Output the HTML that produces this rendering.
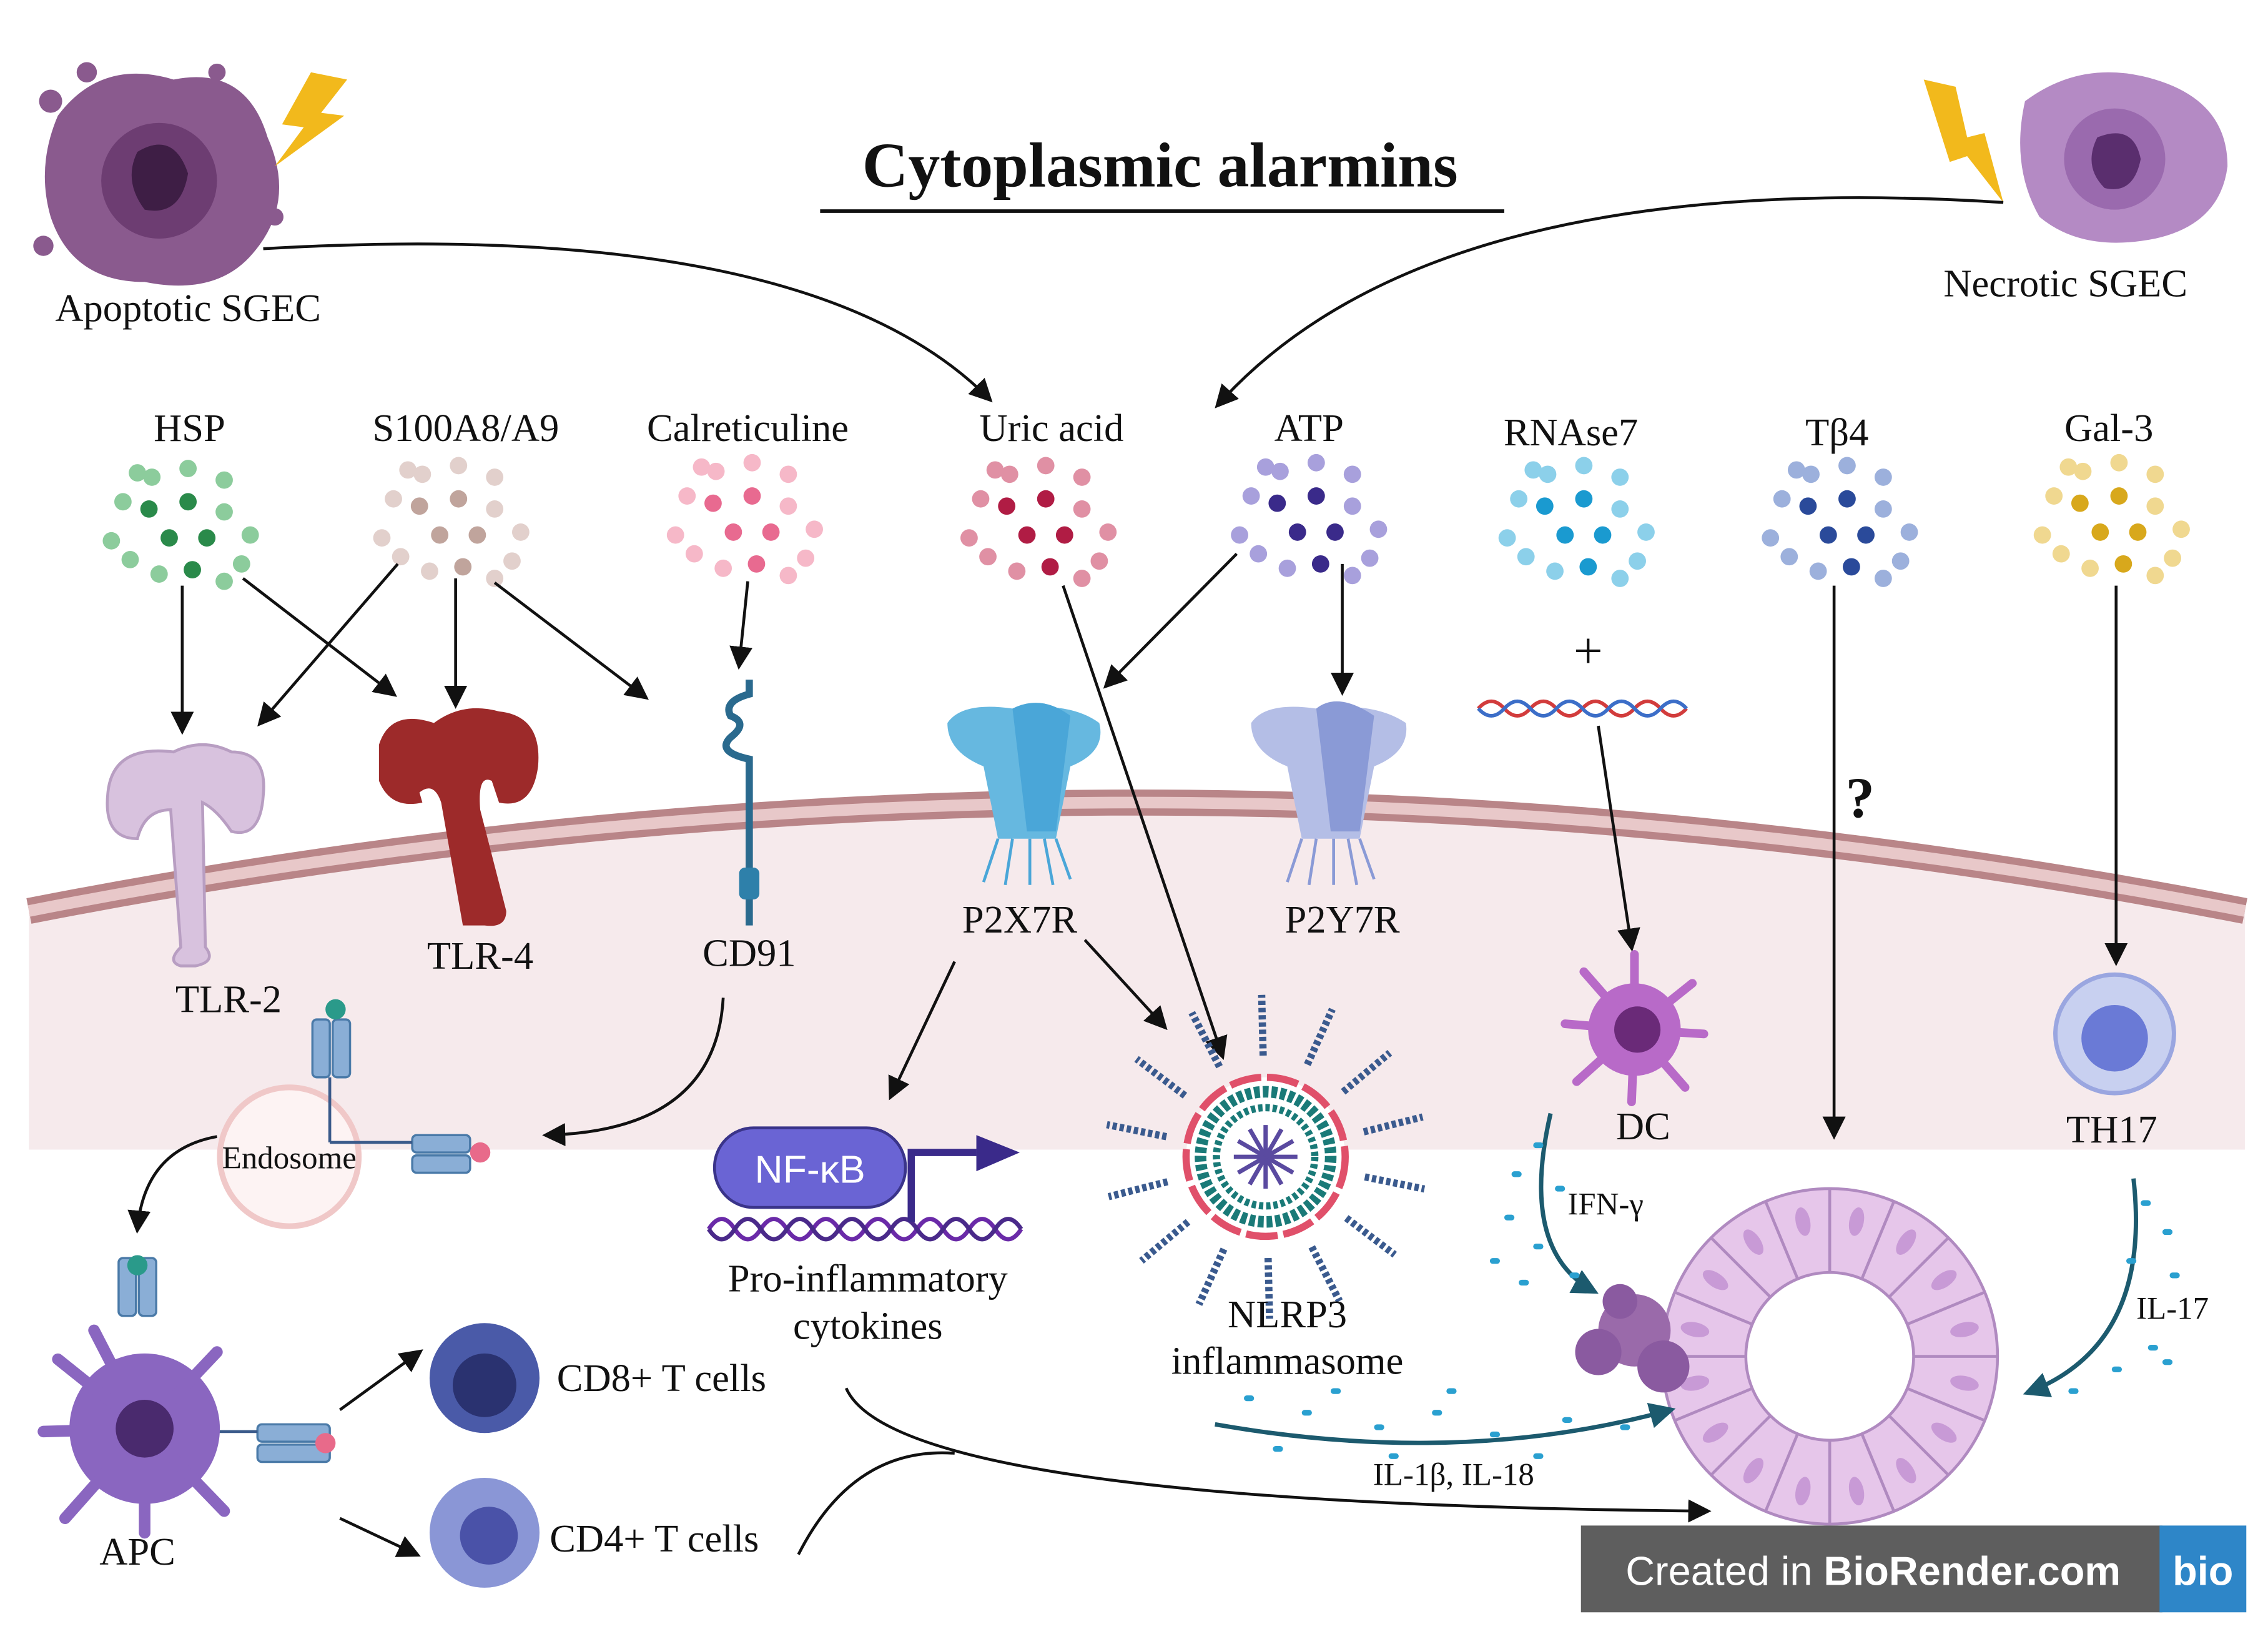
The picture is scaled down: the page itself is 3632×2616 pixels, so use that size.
<!DOCTYPE html>
<html><head><meta charset="utf-8">
<style>
html,body{margin:0;padding:0;background:#fff;width:3632px;height:2616px;overflow:hidden}
svg{display:block}
text{font-family:"Liberation Serif",serif;fill:#111}
</style></head>
<body>
<svg id="s" width="3632" height="2616" viewBox="0 0 1568 1130" preserveAspectRatio="none" xmlns="http://www.w3.org/2000/svg">
<defs>
<marker id="ahb" viewBox="0 0 10 10" refX="8" refY="5" markerWidth="16" markerHeight="16" orient="auto" markerUnits="userSpaceOnUse"><path d="M0,0 L10,5 L0,10 z" fill="#111"/></marker>
<marker id="aht" viewBox="0 0 10 10" refX="8" refY="5" markerWidth="18" markerHeight="18" orient="auto" markerUnits="userSpaceOnUse"><path d="M0,0 L10,5 L0,10 z" fill="#1c5a6e"/></marker>
</defs>
<rect width="1568" height="1130" fill="#fff"/>
<path d="M20,630 Q785,480 1552,630 L1552,795 L20,795 Z" fill="#f6eaec"/>
<path d="M20,630 Q785,480 1552,630" fill="none" stroke="#b98588" stroke-width="18"/>
<path d="M20,630 Q785,480 1552,630" fill="none" stroke="#e8c8c9" stroke-width="8"/>

<text x="802" y="129" font-size="44" font-weight="bold" text-anchor="middle">Cytoplasmic alarmins</text>
<line x1="567" y1="146" x2="1040" y2="146" stroke="#111" stroke-width="2.5"/>

<g>
<path d="M40,80 Q70,40 120,55 Q170,45 185,95 Q205,140 175,175 Q150,205 100,195 Q50,195 35,150 Q25,115 40,80Z" fill="#8a5a8e"/>
<circle cx="110" cy="125" r="40" fill="#6d3d72"/>
<path d="M95,105 Q120,90 130,120 Q125,150 100,145 Q85,125 95,105Z" fill="#3e1e45"/>
<circle cx="35" cy="70" r="8" fill="#8a5a8e"/><circle cx="60" cy="50" r="7" fill="#8a5a8e"/><circle cx="190" cy="150" r="6" fill="#8a5a8e"/><circle cx="30" cy="170" r="7" fill="#8a5a8e"/><circle cx="150" cy="50" r="6" fill="#8a5a8e"/>
<path d="M215,50 L240,55 L222,78 L238,80 L190,115 L210,88 L195,86 Z" fill="#f2b91c"/>
</g>
<text x="130" y="222" font-size="27" text-anchor="middle">Apoptotic SGEC</text>

<g>
<path d="M1400,70 Q1440,40 1490,55 Q1540,70 1540,115 Q1535,155 1490,165 Q1440,175 1410,150 Q1390,115 1400,70Z" fill="#b48ac4"/>
<circle cx="1462" cy="110" r="35" fill="#9a6aae"/>
<path d="M1450,95 Q1475,85 1480,110 Q1475,135 1455,130 Q1440,115 1450,95Z" fill="#5a2e6e"/>
<path d="M1330,55 L1352,60 L1360,95 L1372,92 L1385,140 L1360,108 L1348,112 Z" fill="#f2b91c"/>
</g>
<text x="1428" y="205" font-size="27" text-anchor="middle">Necrotic SGEC</text>

<path d="M182,172 Q560,150 684,276" fill="none" stroke="#111" stroke-width="2" marker-end="url(#ahb)"/>
<path d="M1385,140 Q990,115 842,280" fill="none" stroke="#111" stroke-width="2" marker-end="url(#ahb)"/>

<g font-size="27" text-anchor="middle">
<text x="131" y="305">HSP</text>
<text x="322" y="305">S100A8/A9</text>
<text x="517" y="305">Calreticuline</text>
<text x="727" y="305">Uric acid</text>
<text x="905" y="305">ATP</text>
<text x="1086" y="308">RNAse7</text>
<text x="1270" y="308">Tβ4</text>
<text x="1458" y="305">Gal-3</text>
</g>
<g id="dots"></g>

<g stroke="#111" stroke-width="2" fill="none" marker-end="url(#ahb)">
<line x1="126" y1="405" x2="126" y2="505"/>
<line x1="168" y1="400" x2="272" y2="480"/>
<line x1="275" y1="390" x2="180" y2="500"/>
<line x1="315" y1="400" x2="315" y2="487"/>
<line x1="342" y1="403" x2="446" y2="482"/>
<line x1="517" y1="402" x2="511" y2="460"/>
<line x1="855" y1="383" x2="765" y2="474"/>
<line x1="928" y1="390" x2="928" y2="478"/>
<line x1="735" y1="405" x2="845" y2="730"/>
<line x1="1105" y1="502" x2="1128" y2="655"/>
<line x1="1268" y1="405" x2="1268" y2="785"/>
<line x1="1463" y1="405" x2="1463" y2="665"/>
<line x1="660" y1="665" x2="616" y2="758"/>
<line x1="750" y1="650" x2="805" y2="710"/>
<path d="M500,690 Q495,782 378,785"/>
<path d="M150,786 Q100,795 95,850"/>
<line x1="235" y1="975" x2="290" y2="935"/>
<line x1="235" y1="1050" x2="288" y2="1075"/>
<path d="M585,960 Q620,1040 1180,1045"/>
</g>
<path d="M552,1075 Q590,1000 660,1005" fill="none" stroke="#111" stroke-width="2"/>

<text x="1098" y="462" font-size="36" text-anchor="middle">+</text>
<text x="1286" y="565" font-size="40" font-weight="bold" text-anchor="middle">?</text>

<path d="M1022,490 q9,-10 18,0 t18,0 t18,0 t18,0 t18,0 t18,0 t18,0 t18,0" fill="none" stroke="#d23c3c" stroke-width="2.5"/>
<path d="M1022,490 q9,10 18,0 t18,0 t18,0 t18,0 t18,0 t18,0 t18,0 t18,0" fill="none" stroke="#3c6ec8" stroke-width="2.5"/>

<g fill="#d8c2de" stroke="#b89ec2" stroke-width="2">
<path d="M75,545 Q80,515 120,520 Q140,510 160,520 Q185,520 182,550 Q180,580 160,575 Q150,560 140,555 L142,655 Q150,665 135,668 L125,668 Q115,665 125,655 L118,560 Q100,560 95,580 Q70,580 75,545Z"/>
</g>
<text x="158" y="700" font-size="27" text-anchor="middle">TLR-2</text>
<g fill="#9d2a2a">
<path d="M262,515 Q270,490 300,500 Q320,485 345,492 Q375,495 372,530 Q368,560 345,555 L340,540 Q330,535 332,560 L350,630 Q350,642 335,640 L320,640 L305,555 Q300,540 290,548 L292,555 Q270,560 262,540Z"/>
</g>
<text x="332" y="670" font-size="27" text-anchor="middle">TLR-4</text>
<g fill="none" stroke="#2a6a8e" stroke-width="5">
<path d="M518,470 L518,480 Q500,485 505,495 Q518,500 505,510 Q495,520 518,525 L518,640"/>
</g>
<rect x="511" y="600" width="14" height="22" rx="4" fill="#2e80aa"/>
<text x="518" y="668" font-size="27" text-anchor="middle">CD91</text>
<g>
<path d="M655,500 Q665,485 700,490 Q740,485 760,500 Q765,520 740,530 L730,580 L690,580 L680,530 Q655,520 655,500Z" fill="#66b8e0"/>
<path d="M700,490 Q720,480 740,495 L730,575 L710,575Z" fill="#4aa6d8"/>
<path d="M690,580 L680,610 M700,580 L695,612 M712,580 L712,612 M722,580 L728,612 M730,580 L740,608" stroke="#4aa6d8" stroke-width="2"/>
</g>
<text x="705" y="645" font-size="27" text-anchor="middle">P2X7R</text>
<g>
<path d="M865,500 Q875,485 910,490 Q950,485 972,500 Q975,520 950,530 L940,580 L900,580 L890,530 Q865,520 865,500Z" fill="#b4bee6"/>
<path d="M910,490 Q925,478 950,495 L940,575 L920,575Z" fill="#8a9ad6"/>
<path d="M900,580 L890,610 M910,580 L905,612 M922,580 L922,612 M932,580 L938,612 M940,580 L950,608" stroke="#8a9ad6" stroke-width="2"/>
</g>
<text x="928" y="645" font-size="27" text-anchor="middle">P2Y7R</text>

<circle cx="200" cy="800" r="48" fill="#fdf3f3" stroke="#f0c8c8" stroke-width="4"/>
<text x="200" y="808" font-size="22" text-anchor="middle">Endosome</text>
<g fill="#8aaed6" stroke="#4a7aa8" stroke-width="1.5">
<rect x="216" y="705" width="12" height="40" rx="3"/><rect x="230" y="705" width="12" height="40" rx="3"/>
<rect x="285" y="785" width="40" height="12" rx="3"/><rect x="285" y="799" width="40" height="12" rx="3"/>
<rect x="82" y="870" width="12" height="40" rx="3"/><rect x="96" y="870" width="12" height="40" rx="3"/>
<rect x="178" y="985" width="50" height="12" rx="3"/><rect x="178" y="999" width="50" height="12" rx="3"/>
</g>
<circle cx="232" cy="698" r="7" fill="#2a9a8a"/><circle cx="332" cy="797" r="7" fill="#e86a8a"/>
<circle cx="95" cy="875" r="7" fill="#2a9a8a"/><circle cx="225" cy="998" r="7" fill="#e86a8a"/>
<line x1="228" y1="745" x2="228" y2="790" stroke="#3a5a8a" stroke-width="2"/>
<line x1="228" y1="790" x2="285" y2="790" stroke="#3a5a8a" stroke-width="2"/>
<line x1="140" y1="990" x2="178" y2="990" stroke="#3a5a8a" stroke-width="2"/>

<g fill="#8a66c0">
<circle cx="100" cy="988" r="52"/>
<g stroke="#8a66c0" stroke-width="8" stroke-linecap="round">
<line x1="100" y1="988" x2="40" y2="940"/><line x1="100" y1="988" x2="30" y2="990"/><line x1="100" y1="988" x2="45" y2="1050"/><line x1="100" y1="988" x2="100" y2="1060"/><line x1="100" y1="988" x2="155" y2="1045"/><line x1="100" y1="988" x2="150" y2="935"/><line x1="100" y1="988" x2="65" y2="920"/>
</g>
</g>
<circle cx="100" cy="988" r="20" fill="#4a2a6e"/>
<text x="95" y="1082" font-size="27" text-anchor="middle">APC</text>

<circle cx="335" cy="953" r="38" fill="#4a5aa8"/><circle cx="335" cy="958" r="22" fill="#2a3270"/>
<circle cx="335" cy="1060" r="38" fill="#8a96d6"/><circle cx="338" cy="1062" r="20" fill="#4a52a8"/>
<text x="385" y="962" font-size="27">CD8+ T cells</text>
<text x="380" y="1073" font-size="27">CD4+ T cells</text>

<path d="M490,850 q9,-14 18,0 t18,0 t18,0 t18,0 t18,0 t18,0 t18,0 t18,0 t18,0 t18,0 t18,0 t18,0" fill="none" stroke="#6a2aa8" stroke-width="3"/>
<path d="M490,850 q9,14 18,0 t18,0 t18,0 t18,0 t18,0 t18,0 t18,0 t18,0 t18,0 t18,0 t18,0 t18,0" fill="none" stroke="#4a2a8a" stroke-width="3"/>
<rect x="494" y="780" width="132" height="55" rx="27" fill="#6a64d4" stroke="#3a348a" stroke-width="2"/>
<text x="560" y="818" font-size="27" text-anchor="middle" style="font-family:'Liberation Sans',sans-serif;fill:#fff">NF-κB</text>
<path d="M630,845 L630,797 L675,797" fill="none" stroke="#3a2a8a" stroke-width="5"/>
<path d="M675,785 L705,797 L675,810Z" fill="#3a2a8a"/>
<text x="600" y="893" font-size="27" text-anchor="middle">Pro-inflammatory</text>
<text x="600" y="926" font-size="27" text-anchor="middle">cytokines</text>

<g id="nlrp"></g>
<text x="890" y="918" font-size="27" text-anchor="middle">NLRP3</text>
<text x="890" y="950" font-size="27" text-anchor="middle">inflammasome</text>

<g fill="#b86ac8">
<circle cx="1130" cy="712" r="32"/>
<g stroke="#b86ac8" stroke-width="6" stroke-linecap="round">
<line x1="1130" y1="712" x2="1130" y2="660"/><line x1="1130" y1="712" x2="1170" y2="680"/><line x1="1130" y1="712" x2="1178" y2="715"/><line x1="1130" y1="712" x2="1165" y2="752"/><line x1="1130" y1="712" x2="1128" y2="762"/><line x1="1130" y1="712" x2="1090" y2="748"/><line x1="1130" y1="712" x2="1082" y2="708"/><line x1="1130" y1="712" x2="1095" y2="672"/>
</g></g>
<circle cx="1132" cy="712" r="16" fill="#6a2a78"/>
<text x="1136" y="788" font-size="27" text-anchor="middle">DC</text>
<circle cx="1462" cy="715" r="41" fill="#c8d0f0" stroke="#9aa6e0" stroke-width="3"/>
<circle cx="1462" cy="718" r="23" fill="#6a7ad6"/>
<text x="1460" y="790" font-size="27" text-anchor="middle">TH17</text>

<g id="ring"></g>
<g fill="#8a5aa0">
<circle cx="1130" cy="920" r="25" fill="#9a6aaa"/><circle cx="1105" cy="935" r="16"/><circle cx="1150" cy="945" r="18"/><circle cx="1120" cy="900" r="12"/>
</g>

<g fill="none" stroke="#1c5a6e" stroke-width="3" marker-end="url(#aht)">
<path d="M1072,770 Q1050,865 1102,893"/>
<path d="M1475,815 Q1488,930 1402,963"/>
<path d="M840,985 Q1010,1015 1155,975"/>
</g>
<g id="spk"></g>
<text x="1110" y="840" font-size="22" text-anchor="middle">IFN-γ</text>
<text x="1502" y="912" font-size="22" text-anchor="middle">IL-17</text>
<text x="1005" y="1027" font-size="22" text-anchor="middle">IL-1β, IL-18</text>

<rect x="1093" y="1055" width="402" height="60" fill="#5e5e5e"/>
<rect x="1493" y="1055" width="60" height="60" fill="#2e86c8"/>
<text x="1295" y="1096" font-size="28" text-anchor="middle" style="font-family:'Liberation Sans',sans-serif;fill:#fff">Created in <tspan font-weight="bold" style="fill:#fff">BioRender.com</tspan></text>
<text x="1523" y="1096" font-size="28" font-weight="bold" text-anchor="middle" style="font-family:'Liberation Sans',sans-serif;fill:#fff">bio</text>
</svg>
<script>
var NS="http://www.w3.org/2000/svg";
function el(t,a,p){var e=document.createElementNS(NS,t);for(var k in a)e.setAttribute(k,a[k]);p.appendChild(e);return e;}
var dots=document.getElementById('dots');
var cl=[[125,362,'#8ccc9c','#2a8a4a'],[312,360,'#e2d0cc','#c0a49c'],[515,358,'#f6b8c8','#e86a90'],[718,360,'#e090a4','#b01c44'],[905,358,'#a8a0dc','#3a2a8a'],[1090,360,'#8cd0ea','#1a9ad0'],[1272,360,'#9cb0dc','#2a4a9a'],[1460,358,'#f0d890','#d8a81c']];
var pat=[[-40,-15,0],[-20,-32,0],[5,-38,0],[30,-30,0],[-48,12,0],[-22,-10,1],[5,-15,1],[30,-8,0],[48,8,0],[-35,25,0],[-8,10,1],[18,10,1],[42,28,0],[-15,35,0],[8,32,1],[30,40,0],[-30,-35,0]];
cl.forEach(function(c){pat.forEach(function(p){el('circle',{cx:c[0]+p[0],cy:c[1]+p[1],r:6,fill:p[2]?c[3]:c[2]},dots);});});
var n=document.getElementById('nlrp');var cx=875,cy=800;
for(var i=0;i<14;i++){var a=i/14*2*Math.PI+0.2;el('line',{x1:cx+70*Math.cos(a),y1:cy+70*Math.sin(a),x2:cx+112*Math.cos(a),y2:cy+112*Math.sin(a),stroke:'#3a5a8e','stroke-width':5,'stroke-dasharray':'3 2'},n);}
el('circle',{cx:cx,cy:cy,r:55,fill:'#fff',stroke:'#e0506a','stroke-width':5,'stroke-dasharray':'22 4'},n);
el('circle',{cx:cx,cy:cy,r:45,fill:'none',stroke:'#1a7a78','stroke-width':8,'stroke-dasharray':'4 2'},n);
el('circle',{cx:cx,cy:cy,r:34,fill:'none',stroke:'#1a7a78','stroke-width':5,'stroke-dasharray':'3 2'},n);
for(var i=0;i<12;i++){var a=i/12*2*Math.PI;el('line',{x1:cx,y1:cy,x2:cx+22*Math.cos(a),y2:cy+22*Math.sin(a),stroke:'#5a4aa0','stroke-width':3},n);}
var r=document.getElementById('ring');var rx=1265,ry=938;
el('circle',{cx:rx,cy:ry,r:87,fill:'none',stroke:'#e6c6ea','stroke-width':58},r);
el('circle',{cx:rx,cy:ry,r:116,fill:'none',stroke:'#b08ac0','stroke-width':2},r);
el('circle',{cx:rx,cy:ry,r:58,fill:'#fff',stroke:'#b08ac0','stroke-width':2},r);
for(var i=0;i<16;i++){var a=i/16*2*Math.PI;el('line',{x1:rx+58*Math.cos(a),y1:ry+58*Math.sin(a),x2:rx+116*Math.cos(a),y2:ry+116*Math.sin(a),stroke:'#b08ac0','stroke-width':2},r);
var b=a+Math.PI/16;el('ellipse',{cx:rx+95*Math.cos(b),cy:ry+95*Math.sin(b),rx:10,ry:5,transform:'rotate('+(b*180/Math.PI)+' '+(rx+95*Math.cos(b))+' '+(ry+95*Math.sin(b))+')',fill:'#c89ad6'},r);}
var s=document.getElementById('spk');
var sp=[[1060,790],[1045,810],[1075,820],[1040,840],[1060,860],[1030,870],[1085,880],[1050,885],[1480,830],[1495,850],[1470,870],[1500,880],[1485,930],[1460,945],[1430,960],[1495,940],[860,965],[900,975],[950,985],[990,975],[1030,990],[1080,980],[1120,985],[880,1000],[960,1005],[1060,1005],[920,960],[1000,960]];
sp.forEach(function(p){el('rect',{x:p[0],y:p[1],width:7,height:4,rx:2,fill:'#2aa0d0'},s);});
</script>
</body></html>
